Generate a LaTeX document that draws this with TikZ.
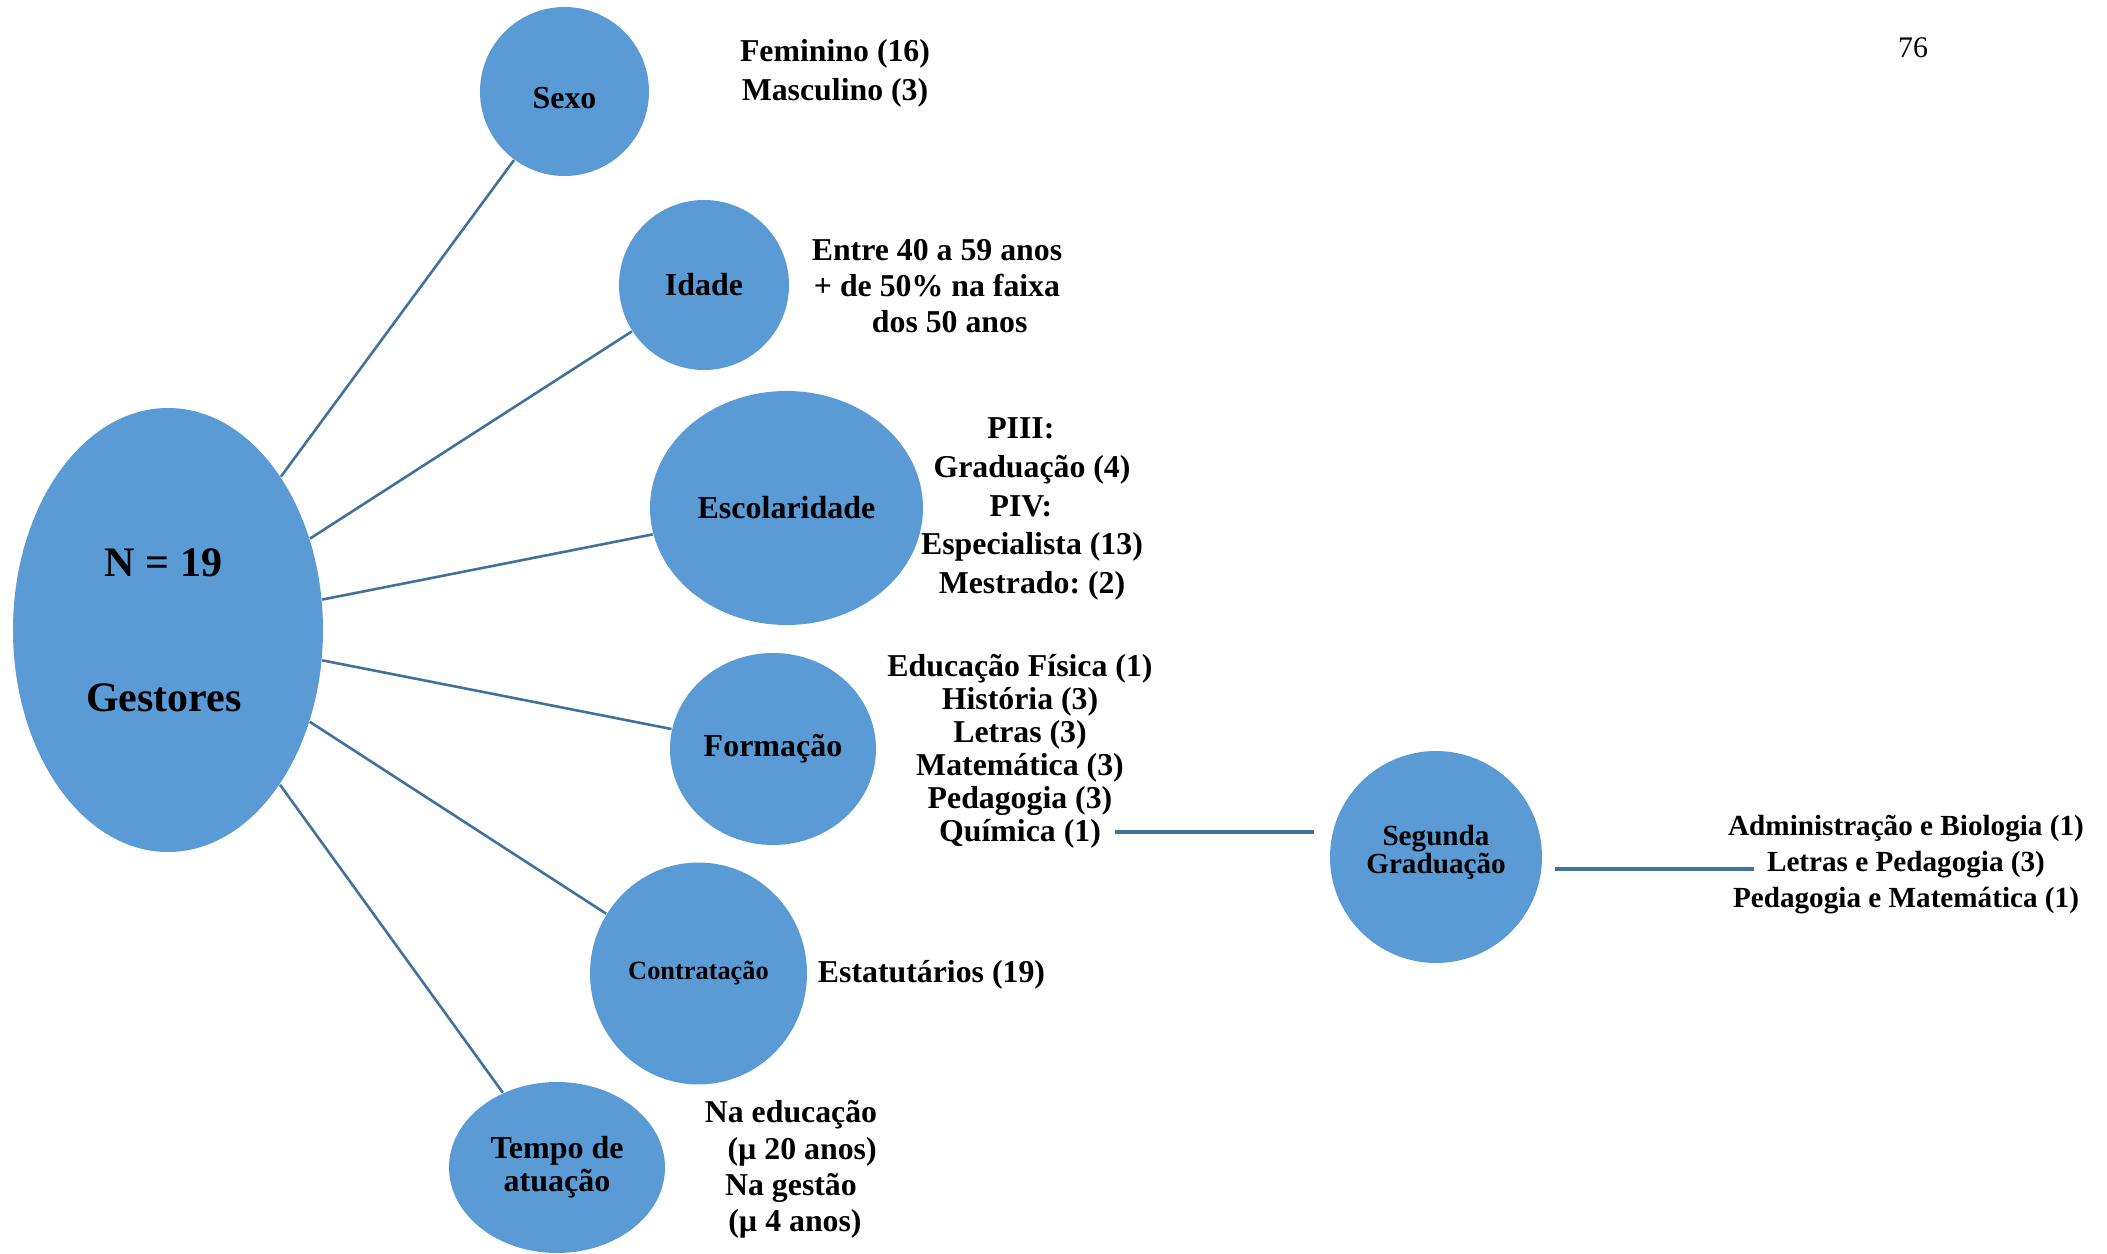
\documentclass[tikz,border=0pt]{standalone}
\usepackage{fontspec}
\setmainfont{Liberation Serif}
\usetikzlibrary{shapes.geometric}
\definecolor{bubblefill}{RGB}{91,155,213}
\definecolor{linkblue}{RGB}{65,113,156}
\newcommand{\txtsize}[2]{\fontsize{#1}{#2}\selectfont\lineskiplimit=-100pt\frenchspacing\bfseries}

\begin{document}
\begin{tikzpicture}[
    bubble/.style={ellipse,fill=bubblefill,inner sep=0pt,align=center},
    conn/.style={draw=linkblue,line width=0.026cm},
    facts/.style={align=center,inner sep=0pt}]
\useasboundingbox (0,0) rectangle (21.070000,-12.540000);

% Drawing ellipse gestores
\node [bubble,minimum width=3.100000cm,minimum height=4.440000cm,font=\txtsize{11.95}{38.4}] (gest) at (1.680000,-6.300000) {N = 19\makebox[0.09cm]{}\\Gestores\makebox[0.08cm]{}};%

% Drawing circle sexo
\node [bubble,minimum width=1.690000cm,minimum height=1.690000cm,font=\txtsize{9.1}{10},text height=0.35cm,text depth=0cm] (sexo) at (5.645000,-0.915000) {Sexo};%

% Drawing circle idade
\node [bubble,minimum width=1.700000cm,minimum height=1.700000cm,font=\txtsize{9.1}{10}] (idade) at (7.040000,-2.850000) {Idade};%

% Drawing ellipse escolaridade
\node [bubble,minimum width=2.730000cm,minimum height=2.340000cm,font=\txtsize{9.1}{10}] (escol) at (7.865000,-5.080000) {Escolaridade};%

% Drawing ellipse formacao
\node [bubble,minimum width=2.060000cm,minimum height=1.920000cm,font=\txtsize{9.1}{10}] (form) at (7.730000,-7.490000) {Formação};%

% Drawing ellipse contratacao
\node [bubble,minimum width=2.170000cm,minimum height=2.220000cm,font=\txtsize{7.5}{9}] (contr) at (6.985000,-9.735000) {Contratação};%

% Drawing ellipse tempo
\node [bubble,minimum width=2.160000cm,minimum height=1.710000cm,font=\txtsize{9.1}{9.39}] (tempo) at (5.570000,-11.675000) {Tempo de\\atuação};%

% Drawing circle segunda
\node [bubble,minimum width=2.120000cm,minimum height=2.120000cm,font=\txtsize{8.3}{8.0}] (segunda) at (14.360000,-8.570000) {Segunda\\Graduação\rule[-0.15cm]{0pt}{0pt}};%

% Drawing lines from gestores
\draw [conn] (gest) -- (sexo);%
\draw [conn] (gest) -- (idade);%
\draw [conn] (gest) -- (escol);%
\draw [conn] (gest) -- (form);%
\draw [conn] (gest) -- (contr);%
\draw [conn] (gest) -- (tempo);%

% Marking facts
\node [facts,font=\txtsize{9.05}{11.1}] (sexoTxt) at (8.350000,-0.730000) {Feminino (16)\\Masculino (3)};%
\node [facts,font=\txtsize{9.05}{10.24}] (idadeTxt) at (9.370000,-2.860000) {Entre 40 a 59 anos\\+ de 50\% na faixa\\\hspace*{0.8em}dos 50 anos};%
\node [facts,font=\txtsize{9.05}{11.02}] (escolTxt) at (10.320000,-5.090000) {PIII:\makebox[0.7em]{}\\Graduação (4)\\PIV:\makebox[0.7em]{}\\Especialista (13)\\Mestrado: (2)};%
\node [facts,font=\txtsize{9.05}{9.39}] (formTxt) at (10.200000,-7.510000) {Educação Física (1)\\História (3)\\Letras (3)\\Matemática (3)\\Pedagogia (3)\\Química (1)};%
\node [facts,font=\txtsize{9.05}{10}] (contrTxt) at (9.315000,-9.745000) {Estatutários (19)};%
\node [facts,font=\txtsize{9.05}{10.35}] (tempoTxt) at (7.910000,-11.697000) {Na educação\\\hspace*{0.7em}(µ 20 anos)\\Na gestão\\\hspace*{0.25em}(µ 4 anos)};%
\node [facts,font=\txtsize{8.3}{10.24}] (segTxt) at (19.060000,-8.645000) {Administração e Biologia (1)\\Letras e Pedagogia (3)\\Pedagogia e Matemática (1)};%

% Drawing lines to segunda
\coordinate (quimEnd) at (11.150000,-8.320000);
\coordinate (segIn) at (13.140000,-8.320000);
\draw [conn,line width=0.034cm] (quimEnd) -- (segIn);%
\coordinate (segOut) at (15.550000,-8.690000);
\coordinate (pairsIn) at (17.540000,-8.690000);
\draw [conn,line width=0.034cm] (segOut) -- (pairsIn);%

% Marking page number
\node [inner sep=0pt,font=\fontsize{8.5}{10}\selectfont] (pagina) at (19.130000,-0.480000) {76};%
\end{tikzpicture}
\end{document}
